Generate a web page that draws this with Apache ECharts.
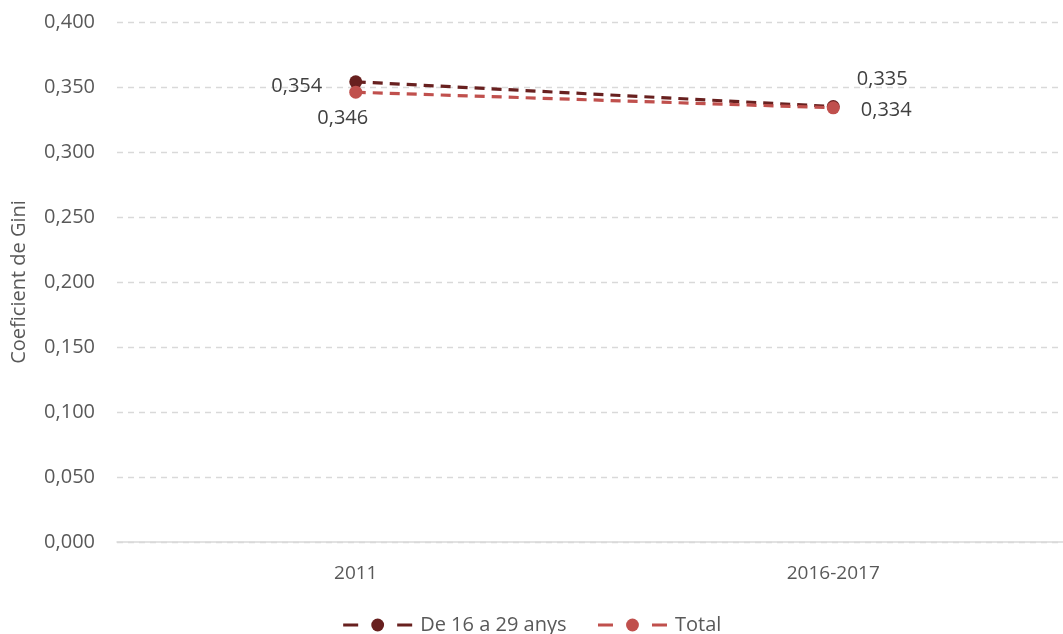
<!DOCTYPE html>
<html><head><meta charset="utf-8">
<script src="https://cdn.jsdelivr.net/npm/echarts@6/dist/echarts.min.js"></script>
<style>html,body{margin:0;padding:0;background:#fff}#c{width:1063px;height:634px}</style>
</head><body><div id="c"></div>
<script>
const categories = ['2011', '2016-2017'];
const youthValues = [0.354, 0.335];
const totalValues = [0.346, 0.334];
const seriesNames = ['De 16 a 29 anys', 'Total'];

const fmt = v => v.toFixed(3).replace('.', ',');
const FONT = 'Open Sans';
const youthOffsets = [[-59, 4], [49, -27]];
const totalOffsets = [[-13, 26], [53, 2]];

function mkData(vals, offs) {
  return vals.map((v, i) => ({
    value: v,
    label: { offset: offs[i] }
  }));
}

const chart = echarts.init(document.getElementById('c'));
chart.setOption({
  animation: false,
  grid: { left: 117, right: -9, top: 22, bottom: 92, outerBoundsMode: 'none', containLabel: false },
  legend: {
    bottom: -6, left: 'center',
    itemWidth: 69, itemHeight: 16, itemGap: 30,
    textStyle: { fontFamily: FONT, fontSize: 20, color: '#595959', padding: [0, 0, 0, 3] },
    lineStyle: { type: [15, 39], width: 3 },
    data: seriesNames
  },
  xAxis: {
    type: 'category', data: categories, boundaryGap: true,
    axisLine: { lineStyle: { color: '#d9d9d9', width: 1.5 } },
    axisTick: { show: false },
    axisLabel: { fontFamily: FONT, fontSize: 19, color: '#595959', margin: 22 }
  },
  yAxis: {
    type: 'value', min: 0, max: 0.4, interval: 0.05,
    name: 'Coeficient de Gini', nameLocation: 'middle', nameGap: 88, nameRotate: 90,
    nameTextStyle: { fontFamily: FONT, fontSize: 20, color: '#595959' },
    axisLine: { show: false }, axisTick: { show: false },
    axisLabel: { fontFamily: FONT, fontSize: 20, color: '#595959', margin: 22, formatter: fmt },
    splitLine: { lineStyle: { color: '#d9d9d9', type: [6, 5], width: 1.3 } }
  },
  series: [
    {
      name: seriesNames[0], type: 'line', data: mkData(youthValues, youthOffsets),
      symbol: 'circle', symbolSize: 13,
      itemStyle: { color: '#68201f' },
      lineStyle: { color: '#68201f', width: 3.2, type: [10, 7] },
      label: { show: true, position: 'inside', fontFamily: FONT, fontSize: 20, color: '#404040', formatter: p => fmt(p.value) },
      z: 2
    },
    {
      name: seriesNames[1], type: 'line', data: mkData(totalValues, totalOffsets),
      symbol: 'circle', symbolSize: 13,
      itemStyle: { color: '#c0504d' },
      lineStyle: { color: '#c0504d', width: 3.2, type: [10, 7] },
      label: { show: true, position: 'inside', fontFamily: FONT, fontSize: 20, color: '#404040', formatter: p => fmt(p.value) },
      z: 3
    }
  ]
});
</script></body></html>
